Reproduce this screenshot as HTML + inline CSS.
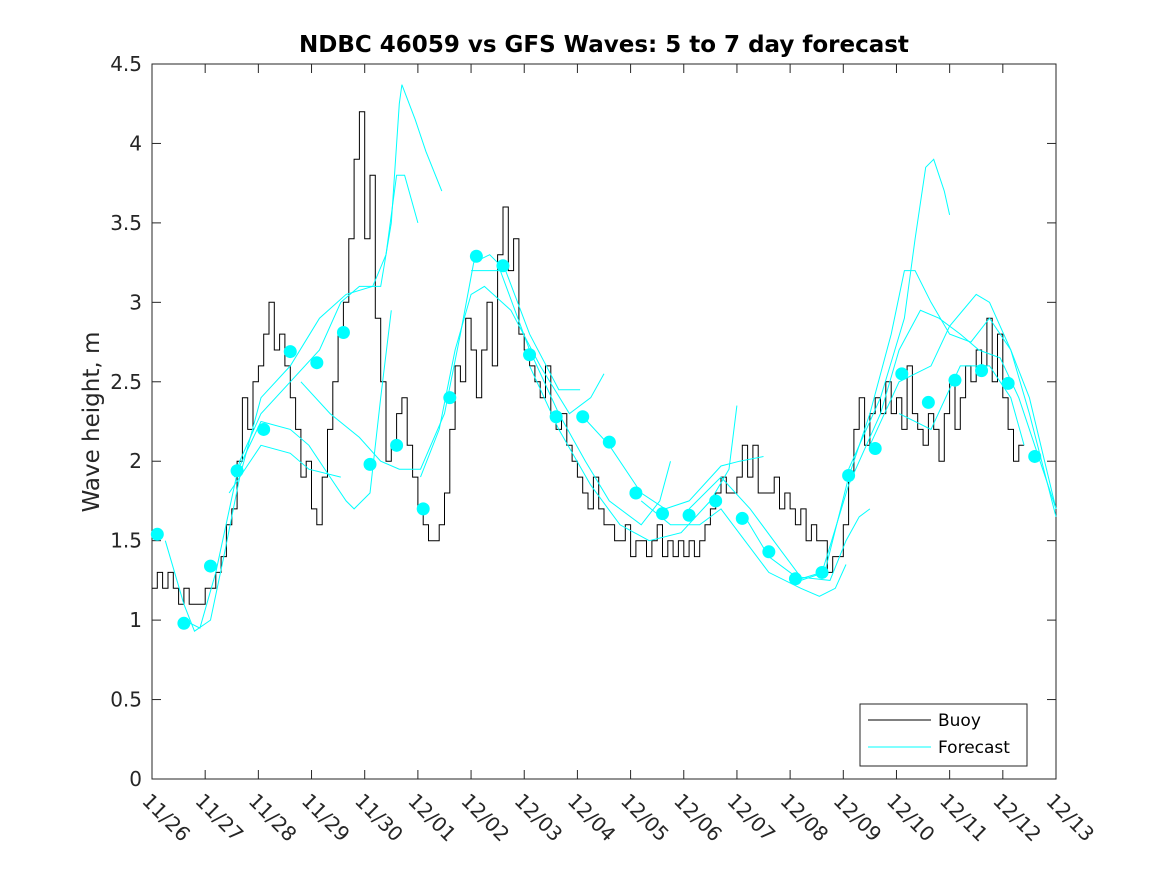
<!DOCTYPE html>
<html><head><meta charset="utf-8"><style>
html,body{margin:0;padding:0;background:#fff}
svg{display:block;font-family:"DejaVu Sans","Liberation Sans",sans-serif}
</style></head><body>
<svg id="chart" width="1167" height="875">
<text x="604" y="52" text-anchor="middle" font-size="23" font-weight="bold">NDBC 46059 vs GFS Waves: 5 to 7 day forecast</text>
<text transform="translate(99,422) rotate(-90)" text-anchor="middle" font-size="23" fill="#262626">Wave height, m</text>
<g id="plot"></g>
</svg>
<script>
const xTickLabels=["11/26","11/27","11/28","11/29","11/30","12/01","12/02","12/03","12/04","12/05","12/06","12/07","12/08","12/09","12/10","12/11","12/12","12/13"];
const yTickValues=[0,0.5,1,1.5,2,2.5,3,3.5,4,4.5];
const yTickLabels=["0","0.5","1","1.5","2","2.5","3","3.5","4","4.5"];
const buoyStart=0, buoyStep=0.1;
const buoyValues=[1.2,1.3,1.2,1.3,1.2,1.1,1.2,1.1,1.1,1.1,1.2,1.2,1.3,1.4,1.6,1.7,2.0,2.4,2.2,2.5,2.6,2.8,3.0,2.7,2.8,2.6,2.4,2.2,1.9,2.0,1.7,1.6,1.9,2.2,2.5,2.8,3.0,3.4,3.9,4.2,3.4,3.8,2.9,2.5,2.0,2.1,2.3,2.4,2.1,1.9,1.7,1.6,1.5,1.5,1.6,1.8,2.2,2.6,2.5,2.9,2.7,2.4,2.7,3.0,2.6,3.3,3.6,3.2,3.4,2.8,2.7,2.6,2.5,2.4,2.6,2.3,2.2,2.3,2.1,2.0,1.9,1.8,1.7,1.9,1.7,1.6,1.6,1.5,1.5,1.6,1.4,1.5,1.5,1.4,1.5,1.6,1.4,1.5,1.4,1.5,1.4,1.5,1.4,1.5,1.6,1.7,1.8,1.9,1.8,1.8,1.9,2.1,1.9,2.1,1.8,1.8,1.8,1.9,1.7,1.8,1.7,1.6,1.7,1.5,1.6,1.5,1.5,1.3,1.4,1.4,1.6,1.9,2.2,2.4,2.1,2.3,2.4,2.3,2.5,2.3,2.4,2.2,2.6,2.3,2.2,2.1,2.3,2.2,2.0,2.3,2.5,2.2,2.4,2.6,2.5,2.7,2.6,2.9,2.5,2.8,2.4,2.2,2.0,2.1];
const dotDays=[0.1,0.6,1.1,1.6,2.1,2.6,3.1,3.6,4.1,4.6,5.1,5.6,6.1,6.6,7.1,7.6,8.1,8.6,9.1,9.6,10.1,10.6,11.1,11.6,12.1,12.6,13.1,13.6,14.1,14.6,15.1,15.6,16.1,16.6];
const dotValues=[1.54,0.98,1.34,1.94,2.2,2.69,2.62,2.81,1.98,2.1,1.7,2.4,3.29,3.23,2.67,2.28,2.28,2.12,1.8,1.67,1.66,1.75,1.64,1.43,1.26,1.3,1.91,2.08,2.55,2.37,2.51,2.57,2.49,2.03];
const fcDays=[
[0.25,0.6,0.8,1.1,1.35,1.65,2.05,2.6,3.15,3.65,4.15,4.4,4.6,4.75,5.0],
[0.6,0.9,1.2,1.65,2.05,2.6,3.15,3.55,3.9,4.3,4.5,4.65,4.7,4.95,5.15,5.45],
[1.45,2.05,2.6,2.95,3.55],
[1.55,2.05,2.6,2.95,3.35,3.65,3.8,4.1,4.3,4.5],
[2.8,3.35,3.9,4.3,4.65,5.05,5.5,5.8,6.05,6.35,6.65,7.1,7.65,8.05],
[5.05,5.4,5.7,6.0,6.25,6.75,7.3,7.85,8.25,8.5],
[6.0,6.55,7.1,7.65,8.15,8.6,9.2,9.55,9.75],
[7.1,7.65,8.25,8.8,9.35,9.95,10.5,10.85,11.0],
[8.05,8.6,9.2,9.65,10.1,10.7,11.05,11.5],
[9.2,9.75,10.3,10.7,11.15,11.6,12.2,12.55,12.85,13.05],
[10.1,10.7,11.25,11.8,12.2,12.75,13.05,13.3,13.5],
[11.15,11.6,12.2,12.65,13.1,13.5,13.9,14.15,14.35,14.65,15.0,15.4,15.75,16.15,16.5,17.0],
[12.1,12.6,13.1,13.7,14.05,14.45,14.8,15.2,15.55,15.95,16.3,16.7,17.0],
[13.1,13.7,14.15,14.35,14.55,14.7,14.9,15.0],
[13.5,14.05,14.65,15.0,15.5,15.75,16.15,16.5,17.0],
[14.05,14.65,15.2,15.75,16.15,16.4]];
const fcValues=[
[1.5,1.1,0.93,1.0,1.4,1.9,2.4,2.6,2.9,3.05,3.1,3.3,3.8,3.8,3.5],
[1.0,0.95,1.3,2.0,2.3,2.5,2.7,3.0,3.1,3.1,3.5,4.25,4.37,4.15,3.95,3.7],
[1.8,2.1,2.05,1.95,1.9],
[1.9,2.25,2.2,2.1,1.9,1.75,1.7,1.8,2.4,2.95],
[2.5,2.3,2.15,2.0,1.95,1.95,2.3,2.8,3.25,3.3,3.2,2.8,2.45,2.45],
[1.9,2.2,2.7,3.05,3.1,2.95,2.6,2.3,2.4,2.55],
[3.2,3.2,2.7,2.3,2.0,1.75,1.6,1.75,2.0],
[2.6,2.2,1.85,1.6,1.5,1.55,1.75,1.95,2.35],
[2.3,2.1,1.8,1.7,1.75,1.97,2.0,2.03],
[1.75,1.6,1.6,1.7,1.5,1.3,1.2,1.15,1.2,1.35],
[1.7,1.9,1.7,1.45,1.27,1.25,1.5,1.65,1.7],
[1.65,1.4,1.25,1.3,1.9,2.3,2.8,3.2,3.2,3.0,2.8,2.75,2.9,2.7,2.3,1.65],
[1.25,1.3,1.85,2.3,2.7,2.95,2.9,2.8,2.7,2.65,2.4,2.0,1.7],
[1.95,2.4,2.9,3.4,3.85,3.9,3.7,3.55],
[2.1,2.5,2.6,2.85,3.05,3.0,2.7,2.4,1.7],
[2.3,2.2,2.6,2.6,2.4,2.1]];

const L=152,R=1056,T=64,B=779;
const xs=d=>L+(R-L)*d/17;
const ys=v=>B-(B-T)*v/4.5;
const NS="http://www.w3.org/2000/svg";
const g=document.getElementById('plot');
function mk(tag,attrs,parent){const e=document.createElementNS(NS,tag);for(const k in attrs)e.setAttribute(k,attrs[k]);(parent||g).appendChild(e);return e;}

const frame=mk('rect',{x:L,y:T,width:R-L,height:B-T,fill:'#fff',stroke:'#262626','stroke-width':1});



xTickLabels.forEach((lab,i)=>{
  const x=xs(i);
  const t1=mk('line',{x1:x,x2:x,y1:B,y2:B-9,stroke:'#262626'});
  
  
  const t2=mk('line',{x1:x,x2:x,y1:T,y2:T+9,stroke:'#262626'});
  
  
  const tx=mk('text',{x:0,y:0,'font-size':20,fill:'#262626',transform:`translate(${x-11},${B+23}) rotate(45)`});
  tx.textContent=lab;
  
  
});
yTickValues.forEach((v,i)=>{
  const y=ys(v);
  const t1=mk('line',{x1:L,x2:L+9,y1:y,y2:y,stroke:'#262626'});
  
  
  const t2=mk('line',{x1:R,x2:R-9,y1:y,y2:y,stroke:'#262626'});
  
  
  const tx=mk('text',{x:L-10,y:y+7,'font-size':20,fill:'#262626','text-anchor':'end'});
  tx.textContent=yTickLabels[i];
  
  
});

let d='';
buoyValues.forEach((v,i)=>{
  const x0=xs(buoyStart+i*buoyStep),x1=xs(buoyStart+(i+1)*buoyStep),y=ys(v);
  d+=(i===0?'M':'L')+x0.toFixed(1)+','+y.toFixed(1)+'L'+x1.toFixed(1)+','+y.toFixed(1);
});
const bl=mk('path',{d:d,fill:'none',stroke:'#000','stroke-width':1});



fcDays.forEach((ds,k)=>{
  const pts=ds.map((dd,i)=>xs(dd).toFixed(1)+','+ys(fcValues[k][i]).toFixed(1)).join(' ');
  const p=mk('polyline',{points:pts,fill:'none',stroke:'#00ffff','stroke-width':1});
  
  
});
dotDays.forEach((dd,i)=>{
  const c=mk('circle',{cx:xs(dd),cy:ys(dotValues[i]),r:6.5,fill:'#00ffff'});
  
  
});

const lg=mk('g',{});


const lr=mk('rect',{x:860,y:704,width:167,height:62,fill:'#fff',stroke:'#262626'},lg);


const l1=mk('line',{x1:868,x2:931,y1:720,y2:720,stroke:'#000'},lg);


const lt1=mk('text',{x:938,y:726,'font-size':17,fill:'#000'},lg);
lt1.textContent='Buoy';


const l2=mk('line',{x1:868,x2:931,y1:747,y2:747,stroke:'#00ffff'},lg);


const lt2=mk('text',{x:938,y:753,'font-size':17,fill:'#000'},lg);
lt2.textContent='Forecast';


</script>
</body></html>
